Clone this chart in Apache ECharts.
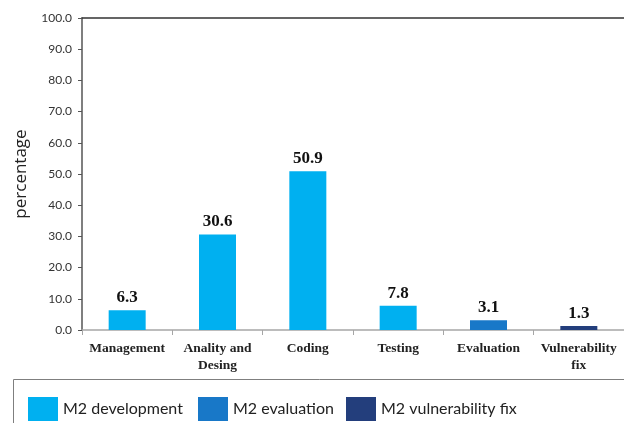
<!DOCTYPE html>
<html>
<head>
<meta charset="utf-8">
<script src="https://cdn.jsdelivr.net/npm/echarts@6/dist/echarts.min.js"></script>
<style>
  html, body { margin: 0; padding: 0; background: #fff; }
  #chart { width: 624px; height: 423px; }
</style>
</head>
<body>
<div id="chart"></div>
<script>
// Phase categories and share of effort (percent)
const categories = ['Management', 'Anality and\nDesing', 'Coding', 'Testing', 'Evaluation', 'Vulnerability\nfix'];
const developmentValues = [6.3, 30.6, 50.9, 7.8, '-', '-'];
const evaluationValues = ['-', '-', '-', '-', 3.1, '-'];
const vulnerabilityFixValues = ['-', '-', '-', '-', '-', 1.3];
const seriesNames = ['M2 development', 'M2 evaluation', 'M2 vulnerability fix'];
const seriesColors = ['#00B0F0', '#1878C8', '#233E7C'];

const chart = echarts.init(document.getElementById('chart'), null, { renderer: 'canvas' });

const valueLabel = {
  show: true,
  position: 'top',
  distance: 4,
  fontFamily: 'Liberation Serif',
  fontWeight: 'bold',
  fontSize: 17,
  color: '#111',
  formatter: p => Number(p.value).toFixed(1)
};

function makeSeries(name, data, color) {
  return {
    name: name,
    type: 'bar',
    stack: 'phase',
    data: data,
    barWidth: 37,
    itemStyle: { color: color },
    label: valueLabel,
    emphasis: { disabled: true }
  };
}

const legendText = { fontFamily: 'Lato', fontSize: 16, color: '#222' };
function makeLegend(name, left) {
  return {
    data: [name],
    left: left,
    top: 392,
    icon: 'rect',
    itemWidth: 30,
    itemHeight: 24,
    itemGap: 0,
    textStyle: legendText,
    selectedMode: false
  };
}

chart.setOption({
  animation: false,
  color: seriesColors,
  grid: { left: 82, right: 0, top: 18, bottom: 93, containLabel: false },
  legend: [
    makeLegend(seriesNames[0], 23),
    makeLegend(seriesNames[1], 193),
    makeLegend(seriesNames[2], 341)
  ],
  graphic: [{
    type: 'rect',
    shape: { x: 13.5, y: 379.5, width: 620, height: 60 },
    style: { fill: 'none', stroke: '#7f7f7f', lineWidth: 1 },
    silent: true
  }],
  xAxis: [{
    type: 'category',
    data: categories,
    position: 'bottom',
    axisLine: { lineStyle: { color: '#A6A6A6', width: 1.5 } },
    axisTick: { show: true, length: 5, lineStyle: { color: '#A6A6A6' } },
    axisLabel: {
      margin: 10,
      interval: 0,
      fontFamily: 'Liberation Serif',
      fontWeight: 'bold',
      fontSize: 13.5,
      lineHeight: 17,
      color: '#222'
    }
  }, {
    type: 'category',
    data: categories,
    position: 'top',
    axisLine: { lineStyle: { color: '#333', width: 1.5 } },
    axisTick: { show: false },
    axisLabel: { show: false }
  }],
  yAxis: {
    type: 'value',
    min: 0,
    max: 100,
    interval: 10,
    name: 'percentage',
    nameLocation: 'middle',
    nameGap: 52,
    nameTextStyle: { fontFamily: 'Open Sans', fontSize: 17, color: '#222' },
    axisLine: { show: true, lineStyle: { color: '#555', width: 1.5 } },
    axisTick: { show: true, length: 4, lineStyle: { color: '#555' } },
    splitLine: { show: false },
    axisLabel: {
      margin: 10,
      fontFamily: 'Lato',
      fontSize: 12,
      color: '#333',
      formatter: v => v.toFixed(1)
    }
  },
  series: [
    makeSeries(seriesNames[0], developmentValues, seriesColors[0]),
    makeSeries(seriesNames[1], evaluationValues, seriesColors[1]),
    makeSeries(seriesNames[2], vulnerabilityFixValues, seriesColors[2])
  ]
});
</script>
</body>
</html>
